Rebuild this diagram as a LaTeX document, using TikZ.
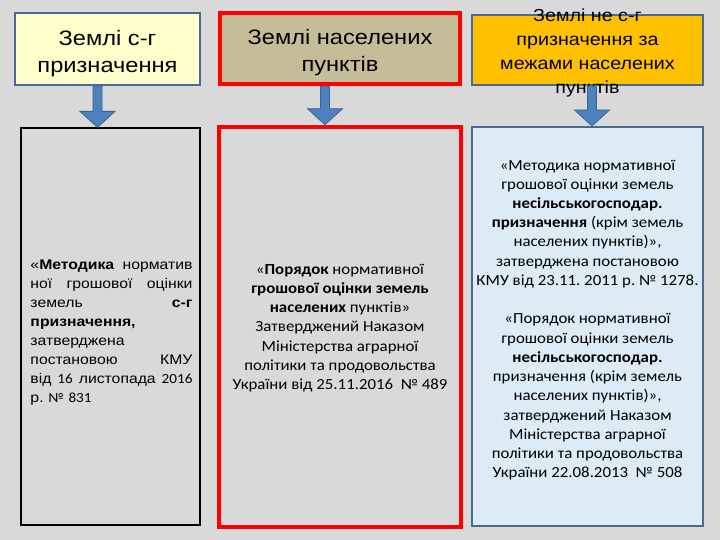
\documentclass[tikz,border=0pt]{standalone}
\usepackage{fontspec}
\setmainfont{Liberation Sans}[FakeStretch=1.13]
\newfontfamily\calfont{Carlito}[FakeStretch=1.09]
\usetikzlibrary{calc}
\frenchspacing

\definecolor{slidegray}{HTML}{D9D9D9}
\definecolor{paleyellow}{HTML}{FFFFCC}
\definecolor{khaki}{HTML}{C4BD97}
\definecolor{amber}{HTML}{FFC000}
\definecolor{paleblue}{HTML}{DDEBF7}
\definecolor{frameblue}{HTML}{4A6994}
\definecolor{arrowfill}{HTML}{4F81BD}
\definecolor{arrowedge}{HTML}{3A6496}

\tikzset{
  landbox/.style={minimum width=#1, inner sep=0pt, line width=2bp},
  redbox/.style={draw=red, line width=4.5bp, inner sep=0pt},
  toptext/.style={align=center, font=\fontsize{21}{27}\selectfont},
  doctext/.style={align=center, font=\calfont\fontsize{15.5}{19.3}\selectfont},
  arrowblock/.style={fill=arrowfill, draw=arrowedge, line width=0.8bp}
}

% block arrow: from node, to node, x offset
\newcommand{\landarrow}[3]{%
  \coordinate (shafttop) at ($(#1.south)+(#3,0)$);
  \coordinate (tip) at (shafttop |- #2.north);
  \draw[arrowblock] ($(shafttop)+(-4.5,0)$) -- ($(tip)+(-4.5,-16)$)
    -- ($(tip)+(-17.5,-16)$) -- (tip) -- ($(tip)+(17.5,-16)$)
    -- ($(tip)+(4.5,-16)$) -- ($(shafttop)+(4.5,0)$) -- cycle;}

\begin{document}
\begin{tikzpicture}[x=1bp,y=-1bp]
\fill[slidegray] (0,0) rectangle (720,540);
\useasboundingbox (0,0) rectangle (720,540);

% top row
\node[landbox=185bp, minimum height=72bp, draw=frameblue, fill=paleyellow] (agri) at (107.5,49) {};
\node[redbox, minimum width=240bp, minimum height=71bp, fill=khaki] (settl) at (340,48.5) {};
\node[landbox=231bp, minimum height=70bp, draw=frameblue, fill=amber] (nonagri) at (587.5,50) {};

\node[toptext] at (107.5,53.5) {Землі с-г\\призначення};
\node[toptext] at (340,52.5) {Землі населених\\пунктів};
\node[toptext, font=\fontsize{17.5}{24.3}\selectfont] at (587.5,53)
  {Землі не с-г\\призначення за\\межами населених\\пунктів};

% bottom row
\node[landbox=179bp, minimum height=397bp, draw=black, line width=1.2bp] (agridoc) at (110.5,326.5) {};
\node[redbox, minimum width=242bp, minimum height=400bp] (settldoc) at (340,327) {};
\node[landbox=231bp, minimum height=399bp, draw=frameblue, fill=paleblue] (nonagridoc) at (587.5,326.5) {};

\node[align=left, text width=162bp, font=\fontsize{14}{19}\selectfont] at (111.5,332.5)
  {«\textbf{Методика}\hfill норматив\\
   ної\hfill грошової\hfill оцінки\\
   земель\hfill\textbf{с-г}\hspace*{24bp}\\
   \textbf{призначення,}\\
   затверджена\\
   постановою\hfill КМУ\\
   від\hfill{\calfont 16}\hfill листопада\hfill{\calfont 2016}\\
   р. {\calfont № 831}};

\node[doctext] at (340,328)
  {«\textbf{Порядок} нормативної\\
   \textbf{грошової оцінки земель}\\
   \textbf{населених} пунктів»\\
   Затверджений Наказом\\
   Міністерства аграрної\\
   політики та продовольства\\
   України від 25.11.2016\ \ № 489};

\node[doctext] at (587.5,320)
  {«Методика нормативної\\
   грошової оцінки земель\\
   \textbf{несільськогосподар.}\\
   \textbf{призначення} (крім земель\\
   населених пунктів)»,\\
   затверджена постановою\\
   КМУ від 23.11. 2011 р. № 1278.\\[19.3bp]
   «Порядок нормативної\\
   грошової оцінки земель\\
   \textbf{несільськогосподар.}\\
   призначення (крім земель\\
   населених пунктів)»,\\
   затверджений Наказом\\
   Міністерства аграрної\\
   політики та продовольства\\
   України 22.08.2013\ \ № 508};

% arrows
\landarrow{agri}{agridoc}{-10}
\landarrow{settl}{settldoc}{-15}
\landarrow{nonagri}{nonagridoc}{4.5}
\end{tikzpicture}
\end{document}
